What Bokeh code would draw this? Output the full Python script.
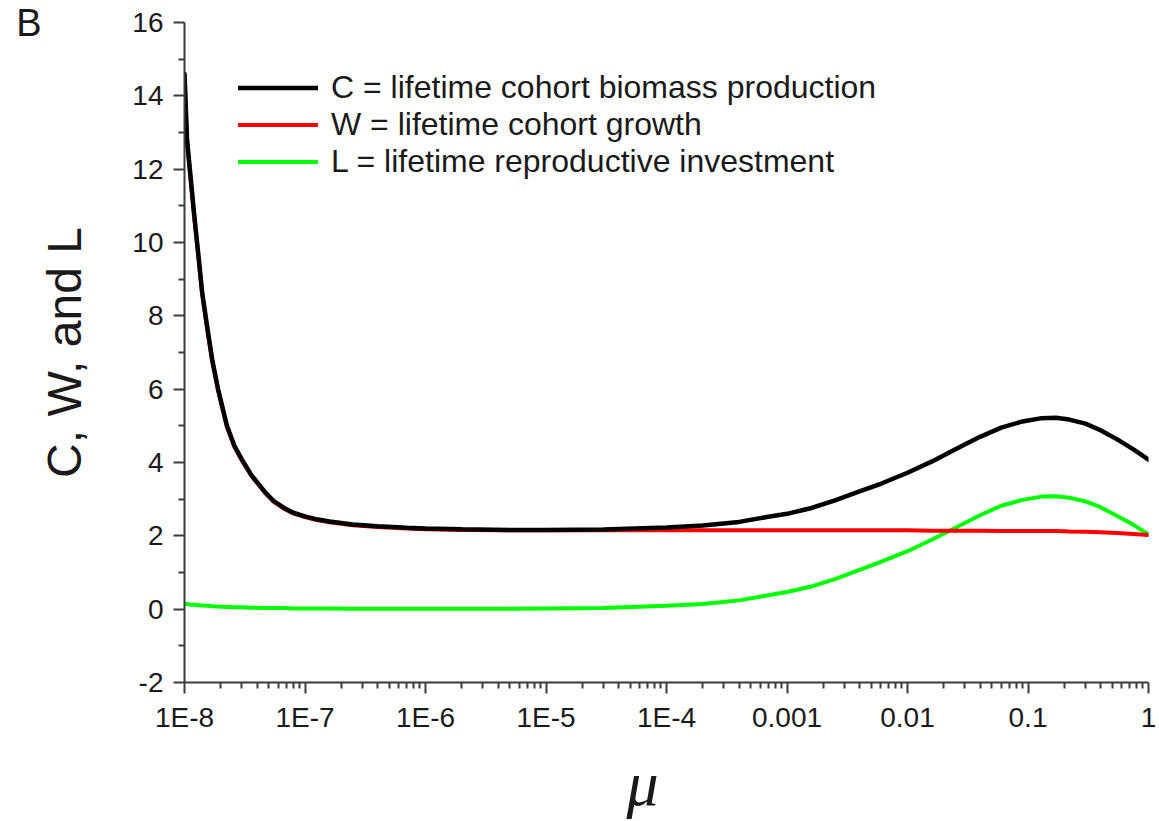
from bokeh.plotting import figure
from bokeh.models import (Range1d, FixedTicker, CustomJSTickFormatter, Legend,
                          LegendItem, LinearAxis)
from bokeh.embed import file_html
from bokeh.resources import INLINE

# ---------------- data ----------------
mu = [1.0e-8, 1.05e-8, 1.1e-8, 1.2e-8, 1.3e-8, 1.4e-8, 1.55e-8, 1.7e-8, 1.9e-8,
      2.25e-8, 2.6e-8, 3.0e-8, 3.6e-8, 4.7e-8, 5.5e-8, 6.7e-8, 8e-8, 1.0e-7,
      1.25e-7, 1.6e-7, 2.5e-7, 4e-7, 7e-7, 1e-6, 2e-6, 5e-6, 1e-5, 3e-5, 1e-4,
      2e-4, 4e-4, 7e-4, 1e-3, 1.6e-3, 2.5e-3, 4e-3, 6e-3, 0.01, 0.016, 0.025,
      0.04, 0.06, 0.09, 0.13, 0.17, 0.22, 0.3, 0.4, 0.55, 0.75, 1.0]

C_vals = [14.6, 12.8, 12.1, 10.8, 9.7, 8.65, 7.65, 6.8, 6.0,
          5.0, 4.45, 4.08, 3.65, 3.18, 2.95, 2.76, 2.63, 2.53,
          2.45, 2.39, 2.31, 2.26, 2.22, 2.20, 2.18, 2.16, 2.16, 2.17, 2.23,
          2.28, 2.38, 2.52, 2.60, 2.76, 2.97, 3.21, 3.42, 3.72, 4.03, 4.36,
          4.70, 4.95, 5.12, 5.21, 5.22, 5.17, 5.06, 4.88, 4.63, 4.36, 4.08]

W_vals = [14.55, 12.75, 12.05, 10.75, 9.65, 8.6, 7.6, 6.75, 5.97,
          4.97, 4.42, 4.05, 3.63, 3.16, 2.93, 2.74, 2.61, 2.51,
          2.43, 2.37, 2.29, 2.24, 2.20, 2.18, 2.16, 2.15, 2.15, 2.15, 2.15,
          2.15, 2.15, 2.15, 2.15, 2.15, 2.15, 2.15, 2.15, 2.15, 2.14, 2.14,
          2.14, 2.13, 2.13, 2.13, 2.13, 2.12, 2.11, 2.10, 2.08, 2.05, 2.02]

L_vals = [0.15, 0.14, 0.13, 0.12, 0.11, 0.10, 0.09, 0.08, 0.07,
          0.06, 0.05, 0.05, 0.04, 0.03, 0.03, 0.03, 0.02, 0.02,
          0.02, 0.02, 0.01, 0.01, 0.01, 0.01, 0.01, 0.01, 0.02, 0.03, 0.09,
          0.14, 0.24, 0.38, 0.47, 0.62, 0.82, 1.07, 1.29, 1.58, 1.90, 2.22,
          2.56, 2.82, 2.98, 3.07, 3.08, 3.04, 2.94, 2.78, 2.54, 2.30, 2.04]

x_ticks = [1e-8, 1e-7, 1e-6, 1e-5, 1e-4, 1e-3, 1e-2, 1e-1, 1.0]
x_tick_labels = ["1E-8", "1E-7", "1E-6", "1E-5", "1E-4", "0.001", "0.01", "0.1", "1"]
x_minor_ticks = [k * 10.0 ** e for e in range(-8, 0) for k in range(2, 10)]
y_ticks = [-2, 0, 2, 4, 6, 8, 10, 12, 14, 16]
y_tick_labels = ["-2", "0", "2", "4", "6", "8", "10", "12", "14", "16"]
y_minor_ticks = [-1, 1, 3, 5, 7, 9, 11, 13, 15]

series_labels = ["C = lifetime cohort biomass production",
                 "W = lifetime cohort growth",
                 "L = lifetime reproductive investment"]
series_colors = ["#000000", "#ff0000", "#00ff00"]
x_title = "μ"
y_title = "C, W, and L"
panel_letter = "B"

# ---------------- figure ----------------
FONT = "Liberation Sans"
TEXT_COLOR = "#1a1a1a"
AXIS_COLOR = "#3c3c3c"

p = figure(width=1159, height=821, x_axis_type="log",
           x_range=Range1d(1e-8, 1.0), y_range=Range1d(-2, 16),
           output_backend="svg", toolbar_location=None,
           min_border_left=184, min_border_right=11,
           min_border_top=22, min_border_bottom=138)
p.outline_line_color = None
p.xgrid.visible = False
p.ygrid.visible = False
p.background_fill_color = "white"
p.border_fill_color = "white"

xa = p.xaxis[0]
ya = p.yaxis[0]
xa.ticker = FixedTicker(ticks=x_ticks, minor_ticks=x_minor_ticks)
xa.formatter = CustomJSTickFormatter(
    args=dict(xt=x_ticks, xl=x_tick_labels),
    code="""
    let best = 0, bd = Infinity;
    for (let i = 0; i < xt.length; i++) {
        const d = Math.abs(Math.log10(tick) - Math.log10(xt[i]));
        if (d < bd) { bd = d; best = i; }
    }
    return xl[best];
    """)
ya.ticker = FixedTicker(ticks=y_ticks, minor_ticks=y_minor_ticks)
ya.formatter = CustomJSTickFormatter(
    args=dict(yt=y_ticks, yl=y_tick_labels),
    code="""
    let best = 0, bd = Infinity;
    for (let i = 0; i < yt.length; i++) {
        const d = Math.abs(tick - yt[i]);
        if (d < bd) { bd = d; best = i; }
    }
    return yl[best];
    """)

for ax in (xa, ya):
    ax.axis_line_width = 2
    ax.axis_line_color = AXIS_COLOR
    ax.major_tick_line_width = 2
    ax.major_tick_line_color = AXIS_COLOR
    ax.minor_tick_line_width = 2
    ax.minor_tick_line_color = AXIS_COLOR
    ax.major_tick_out = 11
    ax.major_tick_in = 0
    ax.minor_tick_out = 6
    ax.minor_tick_in = 0
    ax.major_label_text_font = FONT
    ax.major_label_text_font_size = "28px"
    ax.major_label_text_color = TEXT_COLOR
xa.major_label_standoff = 8
ya.major_label_standoff = 10

# x title: trailing no-break spaces shift the centred μ left, as in the reference
xa.axis_label = x_title + "\u00a0\u00a0\u00a0"
xa.axis_label_text_font = "Liberation Serif"
xa.axis_label_text_font_style = "italic"
xa.axis_label_text_font_size = "64px"
xa.axis_label_text_color = TEXT_COLOR
xa.axis_label_standoff = 12

ya.axis_label = y_title
ya.axis_label_text_font = FONT
ya.axis_label_text_font_style = "normal"
ya.axis_label_text_font_size = "48px"
ya.axis_label_text_color = TEXT_COLOR
ya.axis_label_standoff = 38

# panel letter "B" as the label of an empty outer axis, placed at its top end
b_axis = LinearAxis(ticker=FixedTicker(ticks=[]), axis_line_color=None,
                    major_tick_out=0, major_tick_in=0,
                    minor_tick_out=0, minor_tick_in=0,
                    major_label_text_font_size="0px",
                    axis_label=panel_letter,
                    axis_label_orientation="horizontal",
                    axis_label_align="end",
                    axis_label_standoff=-6,
                    axis_label_text_font=FONT,
                    axis_label_text_font_style="normal",
                    axis_label_text_font_size="38px",
                    axis_label_text_color=TEXT_COLOR)
p.add_layout(b_axis, "left")

# ---------------- lines (green under red under black) ----------------
rL = p.line(mu, L_vals, line_color=series_colors[2], line_width=4, line_cap="round")
rW = p.line(mu, W_vals, line_color=series_colors[1], line_width=4, line_cap="round")
rC = p.line(mu, C_vals, line_color=series_colors[0], line_width=4.5, line_cap="round")

legend = Legend(items=[LegendItem(label=series_labels[0], renderers=[rC]),
                       LegendItem(label=series_labels[1], renderers=[rW]),
                       LegendItem(label=series_labels[2], renderers=[rL])],
                location=(54, 502))
legend.border_line_color = None
legend.background_fill_alpha = 0
legend.padding = 0
legend.margin = 0
legend.spacing = 0
legend.glyph_width = 80
legend.glyph_height = 37
legend.label_height = 37
legend.label_standoff = 13
legend.label_text_font = FONT
legend.label_text_font_size = "32px"
legend.label_text_color = TEXT_COLOR
p.add_layout(legend)

open("out.html", "w").write(file_html(p, INLINE))
